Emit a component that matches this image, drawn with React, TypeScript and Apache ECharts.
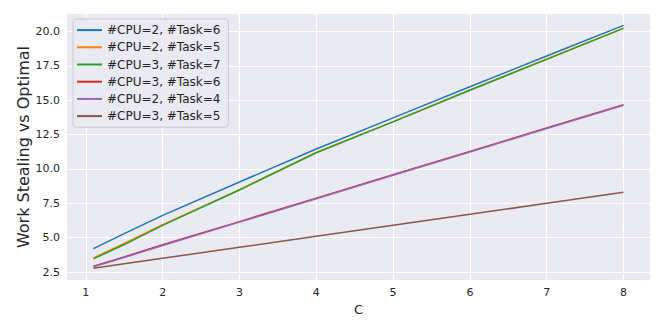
import React, { useEffect, useRef } from "react";
import * as echarts from "echarts";

const xValues = [1.1, 1.5, 2, 3, 4, 5, 6, 7, 8];
const seriesNames = [
  "#CPU=2, #Task=6",
  "#CPU=2, #Task=5",
  "#CPU=3, #Task=7",
  "#CPU=3, #Task=6",
  "#CPU=2, #Task=4",
  "#CPU=3, #Task=5",
];
const cpu2task6 = [4.2, 5.3, 6.62, 9.05, 11.45, 13.72, 15.98, 18.22, 20.45];
const cpu2task5 = [3.52, 4.58, 5.95, 8.5, 11.2, 13.45, 15.75, 18.0, 20.25];
const cpu3task7 = [3.46, 4.5, 5.9, 8.47, 11.18, 13.43, 15.73, 17.98, 20.23];
const cpu3task6 = [2.92, 3.6, 4.48, 6.17, 7.88, 9.58, 11.28, 12.98, 14.68];
const cpu2task4 = [2.88, 3.56, 4.43, 6.13, 7.84, 9.54, 11.24, 12.94, 14.64];
const cpu3task5 = [2.78, 3.1, 3.5, 4.3, 5.1, 5.9, 6.7, 7.5, 8.3];
const allSeries = [cpu2task6, cpu2task5, cpu3task7, cpu3task6, cpu2task4, cpu3task5];
const colors = ["#1f77b4", "#ff7f0e", "#2ca02c", "#d62728", "#9467bd", "#8c564b"];
const xTicks = [1, 2, 3, 4, 5, 6, 7, 8];
const yTicks = [2.5, 5.0, 7.5, 10.0, 12.5, 15.0, 17.5, 20.0];

export default function App() {
  const ref = useRef<HTMLDivElement>(null);
  useEffect(() => {
    document.body.style.margin = "0";
    if (!ref.current) return;
    const chart = echarts.init(ref.current, null, { renderer: "svg" });
    const font = "DejaVu Sans";
    chart.setOption({
      animation: false,
      textStyle: { fontFamily: font },
      grid: { left: 67, right: 14, top: 14, bottom: 52, show: true, backgroundColor: "#EAEAF2", borderWidth: 0 },
      legend: {
        orient: "vertical",
        left: 73,
        top: 19,
        data: seriesNames,
        icon: "rect",
        itemWidth: 25,
        itemHeight: 2,
        itemGap: 5,
        padding: [5, 8, 5, 4],
        backgroundColor: "rgba(234,234,242,0.85)",
        borderColor: "#cccccc",
        borderWidth: 1,
        borderRadius: 3,
        textStyle: { fontFamily: font, fontSize: 12, color: "#262626", lineHeight: 12.2 },
      },
      xAxis: {
        type: "value",
        min: 0.755,
        max: 8.345,
        name: "C",
        nameLocation: "middle",
        nameGap: 23,
        nameMoveOverlap: false,
        nameTextStyle: { fontFamily: font, fontSize: 13, color: "#262626" },
        axisLine: { show: false },
        axisTick: { show: false, customValues: xTicks },
        axisLabel: { customValues: xTicks, color: "#262626", fontSize: 11, margin: 7, fontFamily: font },
        splitLine: { show: true, lineStyle: { color: "#ffffff", width: 1 } },
      },
      yAxis: {
        type: "value",
        min: 1.92,
        max: 21.28,
        name: "Work Stealing vs Optimal",
        nameLocation: "middle",
        nameGap: 36,
        nameMoveOverlap: false,
        nameTextStyle: { fontFamily: font, fontSize: 16, color: "#262626" },
        axisLine: { show: false },
        axisTick: { show: false, customValues: yTicks },
        axisLabel: {
          customValues: yTicks,
          color: "#262626",
          fontSize: 11,
          margin: 7,
          fontFamily: font,
          formatter: (v: number) => v.toFixed(1),
        },
        splitLine: { show: true, lineStyle: { color: "#ffffff", width: 1 } },
      },
      series: allSeries.map((vals, i) => ({
        name: seriesNames[i],
        type: "line",
        data: vals.map((v, j) => [xValues[j], v]),
        symbol: "none",
        showSymbol: false,
        color: colors[i],
        lineStyle: { color: colors[i], width: 1.5 },
      })),
    });
    return () => chart.dispose();
  }, []);
  return <div ref={ref} style={{ width: 664, height: 332 }} />;
}
